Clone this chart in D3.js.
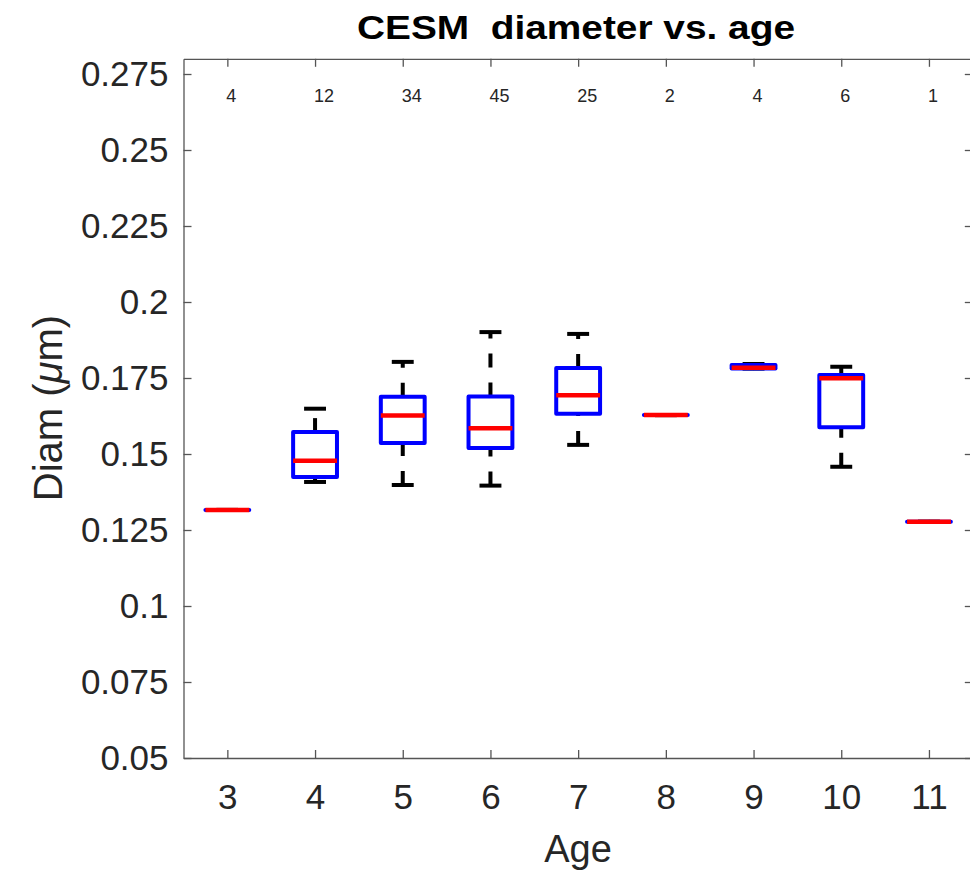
<!DOCTYPE html>
<html>
<head>
<meta charset="utf-8">
<script src="https://cdn.jsdelivr.net/npm/d3@7"></script>
<style>
  body { margin: 0; background: #fff; }
  text { font-family: "Liberation Sans", Arial, Helvetica, sans-serif; fill: #262626; }
</style>
</head>
<body>
<div id="chart-container"></div>
<script>
// Ages on the x axis and the sample count printed over each one
const ages = [3, 4, 5, 6, 7, 8, 9, 10, 11];
const counts = [4, 12, 34, 45, 25, 2, 4, 6, 1];

// Box statistics per age (diameter in um)
const whiskerLo = [0.1316, 0.1408, 0.1398, 0.1396, 0.1530, 0.1628, 0.1781, 0.1458, 0.1277];
const q1        = [0.1316, 0.1424, 0.1536, 0.1520, 0.1632, 0.1628, 0.1781, 0.1588, 0.1277];
const medians   = [0.1316, 0.1478, 0.1627, 0.1585, 0.1693, 0.1628, 0.1784, 0.1749, 0.1277];
const q3        = [0.1316, 0.1572, 0.1688, 0.1689, 0.1783, 0.1628, 0.1793, 0.1760, 0.1277];
const whiskerHi = [0.1316, 0.1649, 0.1803, 0.1901, 0.1895, 0.1628, 0.1796, 0.1787, 0.1277];

const yTicks = [0.05, 0.075, 0.1, 0.125, 0.15, 0.175, 0.2, 0.225, 0.25, 0.275];
const yTickLabels = ["0.05", "0.075", "0.1", "0.125", "0.15", "0.175", "0.2", "0.225", "0.25", "0.275"];

const data = ages.map((age, i) => ({
    age,
    n: counts[i],
    lo: whiskerLo[i], q1: q1[i], med: medians[i], q3: q3[i], hi: whiskerHi[i]
}));

const width = 970;
const height = 875;
const plotLeft = 183.5, plotRight = 972.8, plotTop = 58.8, plotBottom = 758;

const svg = d3.select("#chart-container")
    .append("svg")
        .attr("width", width)
        .attr("height", height);

const x = d3.scaleLinear().domain([2.5, 11.5]).range([plotLeft, plotRight]);
const y = d3.scaleLinear().domain([0.05, 0.28]).range([plotBottom, plotTop]);

const axisColor = "#555";

// Axes: MATLAB style box with inward ticks
const styleAxis = g => {
    g.selectAll(".domain").attr("stroke", axisColor).attr("stroke-width", 1.3);
    g.selectAll(".tick line").attr("stroke", axisColor).attr("stroke-width", 1.3);
    g.selectAll(".tick text").attr("fill", "#262626");
};

svg.append("g")
    .attr("transform", `translate(0,${plotBottom})`)
    .call(d3.axisBottom(x).tickValues(ages).tickFormat(d3.format("d"))
        .tickSizeInner(-8).tickSizeOuter(0).tickPadding(26))
    .call(g => g.selectAll("text").attr("font-size", 35).attr("font-family", null))
    .call(styleAxis);

svg.append("g")
    .attr("transform", `translate(0,${plotTop})`)
    .call(d3.axisTop(x).tickValues(ages).tickFormat("")
        .tickSizeInner(-8).tickSizeOuter(0))
    .call(styleAxis);

svg.append("g")
    .attr("transform", `translate(${plotLeft},0)`)
    .call(d3.axisLeft(y).tickValues(yTicks).tickFormat((d, i) => yTickLabels[i])
        .tickSizeInner(-8).tickSizeOuter(0).tickPadding(15))
    .call(g => g.selectAll("text").attr("font-size", 35).attr("font-family", null))
    .call(styleAxis);

svg.append("g")
    .attr("transform", `translate(${plotRight},0)`)
    .call(d3.axisRight(y).tickValues(yTicks).tickFormat("")
        .tickSizeInner(-8).tickSizeOuter(0))
    .call(styleAxis);

// Boxes
const box = svg.selectAll("g.box")
    .data(data)
    .enter()
    .append("g")
        .attr("class", "box");

// whiskers, drawn from the lower value upward so the dashes start there
box.append("line")
    .attr("x1", d => x(d.age)).attr("x2", d => x(d.age))
    .attr("y1", d => y(d.lo)).attr("y2", d => y(d.q1))
    .attr("stroke", "#000").attr("stroke-width", 4)
    .attr("stroke-dasharray", "14,15");

box.append("line")
    .attr("x1", d => x(d.age)).attr("x2", d => x(d.age))
    .attr("y1", d => y(d.q3)).attr("y2", d => y(d.hi))
    .attr("stroke", "#000").attr("stroke-width", 4)
    .attr("stroke-dasharray", "14,15");

// caps
["lo", "hi"].forEach(k => {
    box.append("line")
        .attr("x1", d => x(d.age - 0.125)).attr("x2", d => x(d.age + 0.125))
        .attr("y1", d => y(d[k])).attr("y2", d => y(d[k]))
        .attr("stroke", "#000").attr("stroke-width", 4);
});

// box outline (path so zero-height boxes still show)
box.append("path")
    .attr("d", d => {
        const x0 = x(d.age - 0.25), x1 = x(d.age + 0.25);
        return `M${x0},${y(d.q1)}L${x1},${y(d.q1)}L${x1},${y(d.q3)}L${x0},${y(d.q3)}Z`;
    })
    .attr("fill", "none")
    .attr("stroke", "#0000ff")
    .attr("stroke-width", 4)
    .attr("stroke-linejoin", "round");

// median
box.append("line")
    .attr("x1", d => x(d.age - 0.25)).attr("x2", d => x(d.age + 0.25))
    .attr("y1", d => y(d.med)).attr("y2", d => y(d.med))
    .attr("stroke", "#ff0000").attr("stroke-width", 4.5);

// counts above each age
svg.selectAll("text.count")
    .data(data)
    .enter()
    .append("text")
        .attr("class", "count")
        .attr("x", d => x(d.age) - 1)
        .attr("y", 101.7)
        .attr("font-size", 18)
        .text(d => d.n);

// Title and axis labels
svg.append("text")
    .attr("x", 576)
    .attr("y", 39)
    .attr("text-anchor", "middle")
    .attr("font-size", 33)
    .attr("font-weight", "bold")
    .attr("textLength", 438)
    .attr("lengthAdjust", "spacingAndGlyphs")
    .style("white-space", "pre")
    .style("fill", "#000")
    .text("CESM  diameter vs. age");

svg.append("text")
    .attr("x", 578)
    .attr("y", 862)
    .attr("text-anchor", "middle")
    .attr("font-size", 38)
    .text("Age");

const ylab = svg.append("text")
    .attr("transform", "translate(62,408) rotate(-90)")
    .attr("text-anchor", "middle")
    .attr("font-size", 40);
ylab.append("tspan").text("Diam (");
ylab.append("tspan").attr("font-style", "italic").text("\u03bc");
ylab.append("tspan").text("m)");
</script>
</body>
</html>
